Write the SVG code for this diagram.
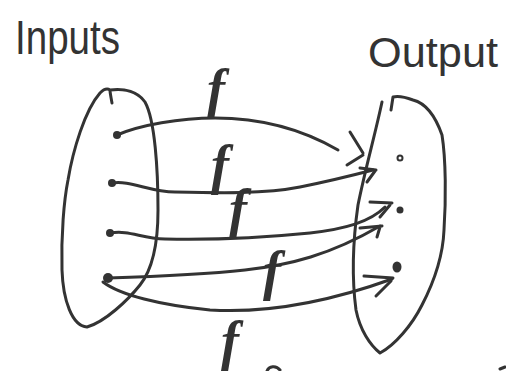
<svg xmlns="http://www.w3.org/2000/svg" width="506" height="371" viewBox="0 0 506 371">
<style>
.s{fill:none;stroke:#333;stroke-width:3;stroke-linecap:round;stroke-linejoin:round}
.d{fill:#333}
.t{font-family:"Liberation Sans",Arial,sans-serif;fill:#333}
.f{font-family:"Liberation Serif","DejaVu Serif",serif;font-style:italic;font-weight:bold;fill:#333;font-size:54px}
</style>
<rect width="506" height="371" fill="#fff"/>
<g id="inputs">
<text class="t" x="15" y="54" font-size="48" textLength="105" lengthAdjust="spacingAndGlyphs">Inputs</text>
<path class="s" d="M112,103 C111,97 110,93 110,90 C125,88 138,92 145,102 C155,120 158,170 158,210 C158,245 152,270 140,285 C128,300 105,322 87,327 C72,326 63,300 62,270 C61,235 64,200 68,180 C73,150 85,110 100,93 C104,89 107,88 110,90"/>
<circle class="d" cx="117" cy="135" r="4"/>
<circle class="d" cx="112" cy="183" r="4"/>
<circle class="d" cx="110" cy="233" r="4"/>
<circle class="d" cx="108" cy="278" r="5"/>
</g>
<g id="output">
<text class="t" x="368" y="67" font-size="42" textLength="130" lengthAdjust="spacingAndGlyphs">Output</text>
<path class="s" d="M382,102 C375,135 365,170 358,205 C353,240 352,280 356,310 C360,330 370,345 380,353 C395,345 412,325 422,305 C435,280 443,255 444,230 C446,200 446,160 442,135 C435,115 425,103 413,100 C405,97 397,96 393,97 L391,110"/>
<circle cx="400" cy="158" r="2.5" fill="none" stroke="#333" stroke-width="2"/>
<circle class="d" cx="400" cy="210" r="3.5"/>
<ellipse class="d" cx="397" cy="267" rx="4.5" ry="5.5"/>
</g>
<g id="connectors">
<path class="s" d="M117,135 C140,125 180,118 215,118 C260,118 300,128 338,150"/>
<path class="s" d="M350,132 L363,153 M347,165 L363,155"/>
<path class="s" d="M112,183 C130,180 150,192 175,192 C220,193 265,194 300,187 C325,182 350,176 373,170"/>
<path class="s" d="M360,168 L376,170 M367,182 L375,171"/>
<path class="s" d="M110,233 C130,230 140,238 165,239 C210,240 260,238 310,233 C345,229 370,222 385,207"/>
<path class="s" d="M370,202 L392,203 M380,217 L390,205"/>
<path class="s" d="M108,278 C140,277 200,275 245,270 C290,265 330,255 380,226"/>
<path class="s" d="M360,228 L382,226 M377,237 L380,227"/>
<path class="s" d="M103,282 C120,295 160,305 210,310 C260,313 320,305 392,279"/>
<path class="s" d="M364,276 L393,278 M376,296 L391,281"/>
</g>
<g id="labels">
<text class="f" x="207" y="107">f</text>
<text class="f" x="211" y="183">f</text>
<text class="f" x="229" y="227">f</text>
<text class="f" x="263" y="289" font-size="42">f</text>
<text class="f" x="221" y="359">f</text>
</g>
<g id="marks">
<path class="s" d="M267,371 C269,366 276,365 280,370"/>
<path class="s" d="M500,369 L505,367"/>
</g>
</svg>
